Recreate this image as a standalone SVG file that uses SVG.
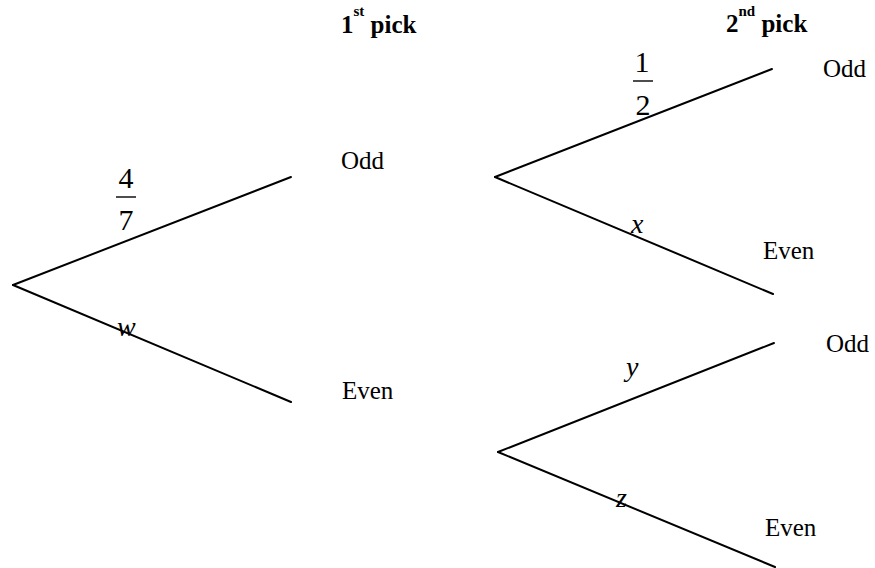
<svg xmlns="http://www.w3.org/2000/svg" width="875" height="568" viewBox="0 0 875 568">
  <style>
    .branch { stroke: #000; stroke-width: 2; fill: none; stroke-linecap: round; }
    .bar { stroke: #000; stroke-width: 1.4; }
    .lbl { font-family: "Liberation Serif", "Times New Roman", serif; font-size: 25px; fill: #000; }
    .head { font-family: "Liberation Serif", "Times New Roman", serif; font-size: 25px; font-weight: bold; fill: #000; }
    .sup { font-size: 15px; }
    .num { font-family: "Liberation Serif", "Times New Roman", serif; font-size: 30px; fill: #000; text-anchor: middle; }
    .var { font-family: "Liberation Serif", "Times New Roman", serif; font-size: 28px; font-style: italic; fill: #000; }
  </style>
  <rect width="875" height="568" fill="#fff"/>

  <!-- column headings -->
  <g id="heading-first">
    <text class="head" x="341" y="33">1<tspan class="sup" dy="-17">st</tspan><tspan dy="17"> pick</tspan></text>
  </g>
  <g id="heading-second">
    <text class="head" x="726" y="32">2<tspan class="sup" dy="-16">nd</tspan><tspan dy="16"> pick</tspan></text>
  </g>

  <!-- tree branches -->
  <g id="connectors">
    <line class="branch" x1="13" y1="285" x2="291" y2="177"/>
    <line class="branch" x1="13" y1="285" x2="291" y2="402"/>
    <line class="branch" x1="495" y1="177" x2="772" y2="69"/>
    <line class="branch" x1="495" y1="177" x2="773" y2="294"/>
    <line class="branch" x1="498" y1="452" x2="774" y2="343"/>
    <line class="branch" x1="498" y1="452" x2="775" y2="567"/>
  </g>

  <!-- branch probabilities -->
  <g id="p-first-odd">
    <text class="num" x="126" y="188">4</text>
    <line class="bar" x1="116" y1="197" x2="136" y2="197"/>
    <text class="num" x="126" y="230">7</text>
  </g>
  <g id="p-first-even">
    <text class="var" x="117" y="336">w</text>
  </g>
  <g id="p-odd-odd">
    <text class="num" x="642" y="72">1</text>
    <line class="bar" x1="633" y1="81" x2="653" y2="81"/>
    <text class="num" x="643" y="115">2</text>
  </g>
  <g id="p-odd-even">
    <text class="var" x="631" y="233">x</text>
  </g>
  <g id="p-even-odd">
    <text class="var" x="626" y="376">y</text>
  </g>
  <g id="p-even-even">
    <text class="var" x="616" y="507">z</text>
  </g>

  <!-- first pick outcomes -->
  <g id="first-odd">
    <text class="lbl" x="341" y="169">Odd</text>
  </g>
  <g id="first-even">
    <text class="lbl" x="342" y="399">Even</text>
  </g>

  <!-- second pick outcomes -->
  <g id="odd-odd">
    <text class="lbl" x="823" y="77">Odd</text>
  </g>
  <g id="odd-even">
    <text class="lbl" x="763" y="259">Even</text>
  </g>
  <g id="even-odd">
    <text class="lbl" x="826" y="352">Odd</text>
  </g>
  <g id="even-even">
    <text class="lbl" x="765" y="536">Even</text>
  </g>
</svg>
